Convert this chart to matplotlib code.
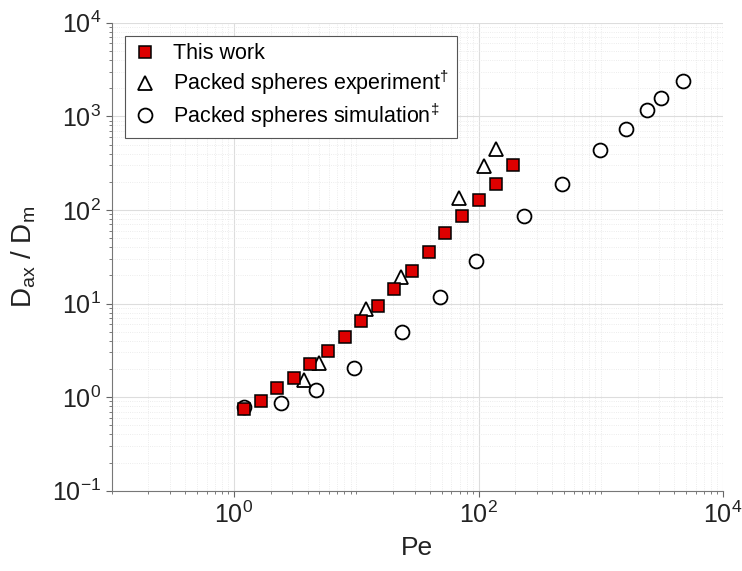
import matplotlib.pyplot as plt
from matplotlib.ticker import LogLocator, FixedLocator, NullFormatter

plt.rcParams['font.family'] = ['Liberation Sans', 'DejaVu Sans']
plt.rcParams['mathtext.fontset'] = 'custom'
plt.rcParams['mathtext.rm'] = 'Liberation Sans'
plt.rcParams['mathtext.it'] = 'Liberation Sans:italic'
plt.rcParams['mathtext.bf'] = 'Liberation Sans:bold'
plt.rcParams['axes.unicode_minus'] = False

# This work
pe_work = [1.20, 1.65, 2.24, 3.09, 4.22, 5.87, 8.06, 11.0, 15.2, 20.5,
           28.6, 39.2, 53.5, 73.9, 101, 140, 191]
d_work = [0.74, 0.92, 1.24, 1.61, 2.28, 3.11, 4.40, 6.52, 9.44, 14.2,
          22.4, 35.8, 56.7, 85.5, 129, 190, 299]

# packed spheres, experiment
pe_exp = [3.73, 4.94, 12.0, 23.2, 68.8, 111, 140]
d_exp = [1.52, 2.33, 8.7, 19.3, 133, 294, 450]

# packed spheres, simulation
pe_sim = [1.21, 2.42, 4.70, 9.64, 23.7, 48.0, 95.1, 237, 480, 979,
          1596, 2371, 3116, 4695]
d_sim = [0.78, 0.87, 1.19, 2.06, 5.01, 11.8, 28.7, 87.0, 190, 432,
         738, 1159, 1585, 2391]

fig = plt.figure(figsize=(7.42, 5.71), dpi=100)
ax = fig.add_axes([0.1505, 0.1406, 0.824, 0.8196])

ax.plot(pe_work, d_work, 's', ms=8, mfc='#dd0000', mec='black', mew=1.1,
        label='This work', zorder=4)
ax.plot(pe_exp, d_exp, '^', ms=10, mfc='white', mec='black', mew=1.3,
        label='Packed spheres experiment$^{\\mathregular{\u2020}}$', zorder=3)
ax.plot(pe_sim, d_sim, 'o', ms=10, mfc='white', mec='black', mew=1.3,
        label='Packed spheres simulation$^{\\mathregular{\u2021}}$', zorder=3)

ax.set_xscale('log')
ax.set_yscale('log')
ax.set_xlim(1e-1, 1e4)
ax.set_ylim(1e-1, 1e4)

ax.xaxis.set_major_locator(FixedLocator([1e0, 1e2, 1e4]))
ax.xaxis.set_minor_locator(LogLocator(base=10, subs=range(1, 10), numticks=20))
ax.xaxis.set_minor_formatter(NullFormatter())
ax.yaxis.set_major_locator(LogLocator(base=10, numticks=10))
ax.yaxis.set_minor_locator(LogLocator(base=10, subs=range(2, 10), numticks=20))
ax.yaxis.set_minor_formatter(NullFormatter())

ax.grid(which='major', color='#dddddd', lw=0.8)
ax.grid(which='minor', color='#e6e6e6', lw=0.6, ls=':')
ax.set_axisbelow(True)

for s in ['top', 'right']:
    ax.spines[s].set_visible(False)
for s in ['left', 'bottom']:
    ax.spines[s].set_color('#777777')
ax.tick_params(which='major', length=4, color='#666666', labelsize=18,
               labelcolor='#222222')
ax.tick_params(which='minor', length=2.5, color='#666666')

ax.set_xlabel('Pe', fontsize=19, color='#222222', labelpad=6)
ax.set_ylabel('D$_{\\mathregular{ax}}$ / D$_{\\mathregular{m}}$', fontsize=20,
              color='#222222', labelpad=10)

leg = ax.legend(loc='upper left', fontsize=15.5, frameon=True, fancybox=False,
                edgecolor='#555555', framealpha=1, borderpad=0.35,
                handlelength=1.2, handletextpad=0.7, labelspacing=0.2,
                bbox_to_anchor=(0.0, 1.0), borderaxespad=0.6)
leg.get_frame().set_linewidth(0.8)

fig.savefig('out.png', dpi=100)
